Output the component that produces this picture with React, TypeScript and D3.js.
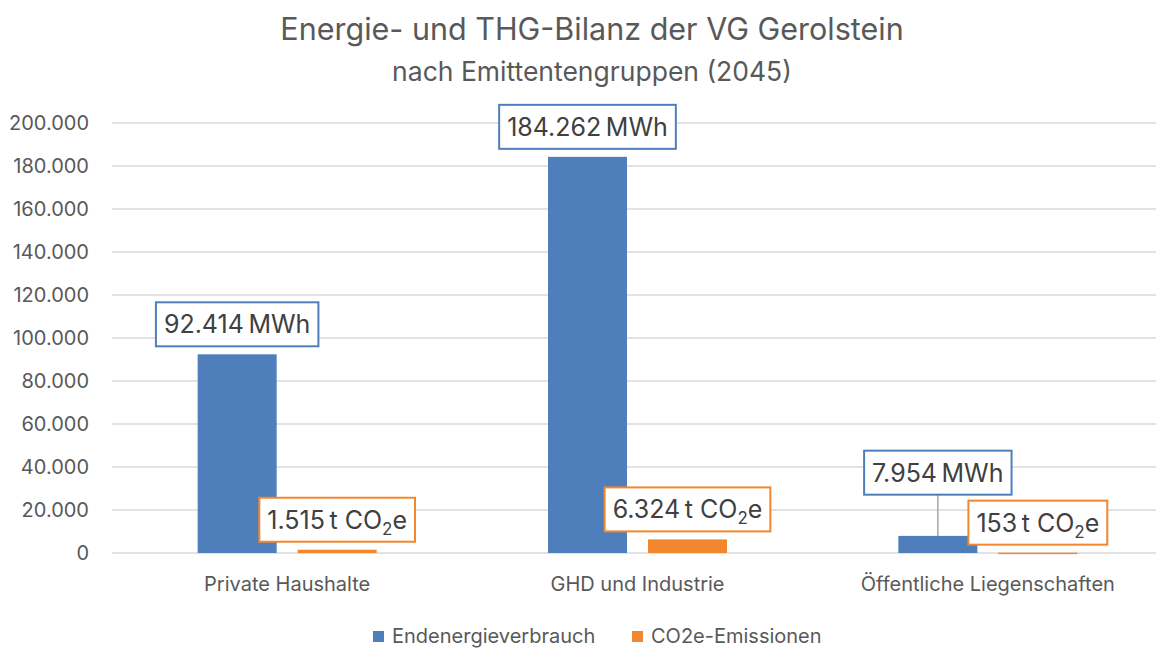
import { useEffect, useRef } from "react";
import * as d3 from "d3";

const categories = ["Private Haushalte", "GHD und Industrie", "Öffentliche Liegenschaften"];
const energie = [92414, 184262, 7954];
const co2 = [1515, 6324, 153];
const yTicks = [0, 20000, 40000, 60000, 80000, 100000, 120000, 140000, 160000, 180000, 200000];
const seriesNames = ["Endenergieverbrauch", "CO2e-Emissionen"];
const colors = ["#4E7FBB", "#F2872F"];

const fmt = (v: number) => v.toString().replace(/\B(?=(\d{3})+(?!\d))/g, ".");

export default function App() {
    const ref = useRef<SVGSVGElement>(null);

    useEffect(() => {
        const width = 1156;
        const height = 649;
        const font = "Inter, 'Noto Sans', sans-serif";
        const textColor = "#595959";

        const svg = d3.select(ref.current)
            .attr("width", width)
            .attr("height", height);
        svg.selectAll("*").remove();

        svg.append("rect").attr("width", width).attr("height", height).attr("fill", "#fff");

        // Scales
        const x = d3.scaleBand<string>()
            .domain(categories)
            .range([112, 1163]);

        const y = d3.scaleLinear()
            .domain([0, 200000])
            .range([553, 123]);

        const barW = 79;
        const gap = 21;

        // Titles
        svg.append("text")
            .attr("x", 592).attr("y", 40)
            .attr("text-anchor", "middle")
            .attr("font-family", font).attr("font-size", 30.5)
            .attr("fill", textColor)
            .text("Energie- und THG-Bilanz der VG Gerolstein");
        svg.append("text")
            .attr("x", 592).attr("y", 81)
            .attr("text-anchor", "middle")
            .attr("font-family", font).attr("font-size", 26.5)
            .attr("fill", textColor)
            .text("nach Emittentengruppen (2045)");

        // Gridlines + y labels
        svg.append("g").selectAll("line")
            .data(yTicks)
            .join("line")
            .attr("x1", 112).attr("x2", width)
            .attr("y1", d => y(d)).attr("y2", d => y(d))
            .attr("stroke", "#D9D9D9").attr("stroke-width", 1.5);

        svg.append("g").selectAll("text")
            .data(yTicks)
            .join("text")
            .attr("x", 89)
            .attr("y", d => y(d))
            .attr("dy", "0.35em")
            .attr("text-anchor", "end")
            .attr("font-family", font).attr("font-size", 20)
            .attr("fill", textColor)
            .text(d => fmt(d));

        // Category labels
        svg.append("g").selectAll("text")
            .data(categories)
            .join("text")
            .attr("x", d => x(d)! + x.bandwidth() / 2)
            .attr("y", 591)
            .attr("text-anchor", "middle")
            .attr("font-family", font).attr("font-size", 20)
            .attr("fill", textColor)
            .text(d => d);

        const groupStart = (c: string) => x(c)! + x.bandwidth() / 2 - (2 * barW + gap) / 2;

        // Bars
        svg.append("g").selectAll("rect")
            .data(categories)
            .join("rect")
            .attr("x", d => groupStart(d))
            .attr("y", (d, i) => y(energie[i]))
            .attr("width", barW)
            .attr("height", (d, i) => y(0) - y(energie[i]))
            .attr("fill", colors[0]);

        svg.append("g").selectAll("rect")
            .data(categories)
            .join("rect")
            .attr("x", d => groupStart(d) + barW + gap)
            .attr("y", (d, i) => y(co2[i]))
            .attr("width", barW)
            .attr("height", (d, i) => Math.max(1.5, y(0) - y(co2[i])))
            .attr("fill", colors[1]);

        // Data labels
        const labelG = svg.append("g");
        const boxH = 44;
        const padX = 8;

        const makeLabel = (cx: number, barTop: number, color: string, parts: (g: any) => void) => {
            const g = labelG.append("g");
            const rect = g.append("rect");
            const t = g.append("text")
                .attr("font-family", font).attr("font-size", 25)
                .attr("fill", "#404040")
                .attr("text-anchor", "middle");
            parts(t);
            const w = (t.node() as SVGTextElement).getComputedTextLength() + padX * 2;
            const bottom = barTop - 8;
            const box = { x: cx - w / 2, y: bottom - boxH, w, h: boxH };
            return { g, rect, t, box, color, cx, barTop };
        };

        const place = (l: any, leader: boolean) => {
            l.rect.attr("x", l.box.x).attr("y", l.box.y)
                .attr("width", l.box.w).attr("height", l.box.h)
                .attr("fill", "#fff").attr("stroke", l.color).attr("stroke-width", 2);
            l.t.attr("x", l.cx).attr("y", l.box.y + l.box.h / 2 + 9);
            if (leader) {
                l.g.insert("line", "rect")
                    .attr("x1", l.cx).attr("x2", l.cx)
                    .attr("y1", l.box.y + l.box.h).attr("y2", l.barTop)
                    .attr("stroke", "#A6A6A6").attr("stroke-width", 1.5);
            }
        };

        categories.forEach((c, i) => {
            const bx = groupStart(c);
            const a = makeLabel(bx + barW / 2, y(energie[i]), colors[0], t => {
                t.text(`${fmt(energie[i])}\u2009MWh`);
            });
            const b = makeLabel(bx + barW + gap + barW / 2, y(co2[i]), colors[1], t => {
                t.append("tspan").text(`${fmt(co2[i])}\u2009t CO`);
                t.append("tspan").attr("font-size", 17).attr("dy", 6).text("2");
                t.append("tspan").attr("dy", -6).text("e");
            });
            const overlap = a.box.x + a.box.w > b.box.x && a.box.y + a.box.h > b.box.y;
            if (overlap) {
                a.box.y = b.box.y - 6 - a.box.h;
            }
            place(a, overlap);
            place(b, false);
        });

        // Legend
        const legend = svg.append("g").attr("font-family", font).attr("font-size", 20).attr("fill", textColor);
        const legendX = [373, 632];
        seriesNames.forEach((n, i) => {
            legend.append("rect")
                .attr("x", legendX[i]).attr("y", 631).attr("width", 11).attr("height", 11)
                .attr("fill", colors[i]);
            legend.append("text")
                .attr("x", legendX[i] + 19).attr("y", 643)
                .text(n);
        });
    }, []);

    return <svg ref={ref} style={{ display: "block", position: "absolute", left: 0, top: 0 }}></svg>;
}
